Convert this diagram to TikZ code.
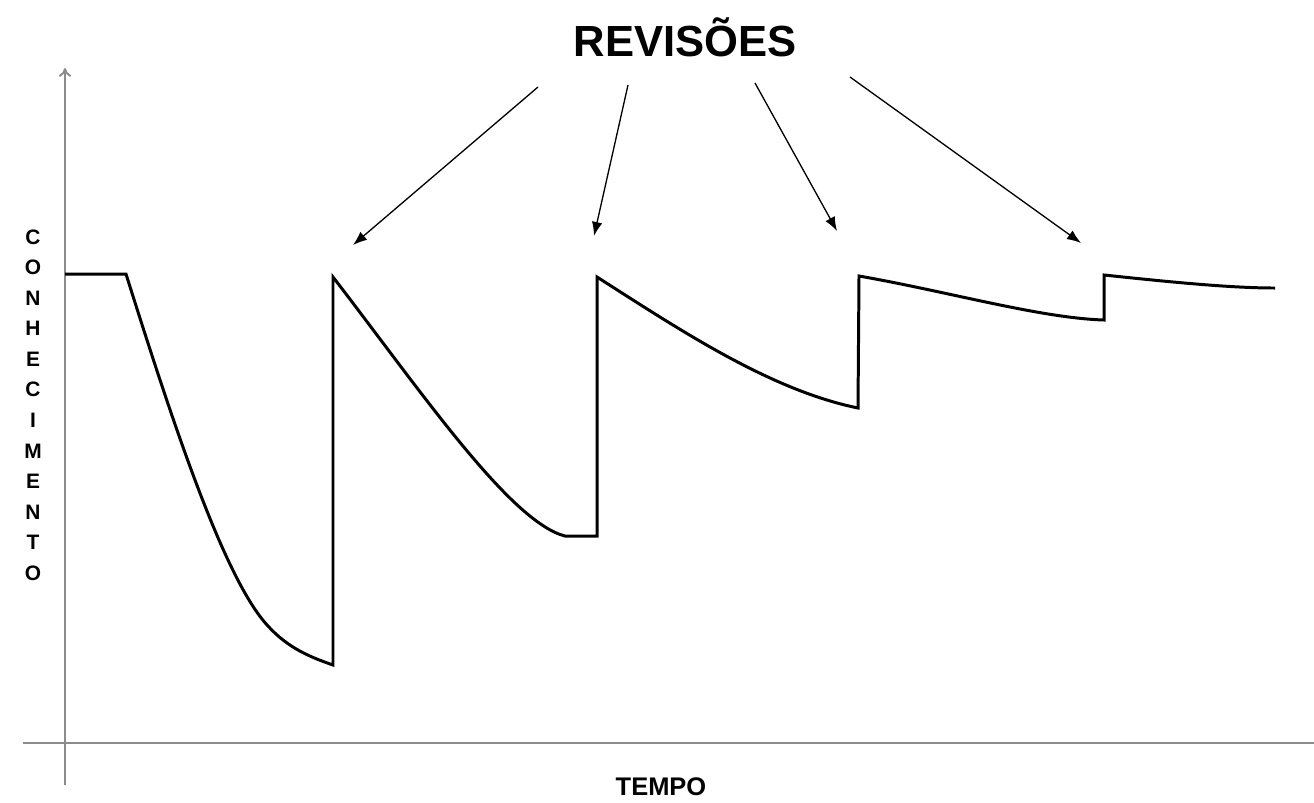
\documentclass[tikz,border=0pt]{standalone}
\usepackage{fontspec}
\setmainfont{Liberation Sans}
\usetikzlibrary{arrows.meta}
\begin{document}
\begin{tikzpicture}[x=0.02cm,y=-0.02cm,
  axis/.style={draw=black!45, line width=1.1pt},
  curve/.style={draw=black, line width=1.7pt, line join=miter},
  revarrow/.style={draw=black, line width=0.75pt, -{Latex[length=8pt,width=6pt]}},
  lbl/.style={font=\bfseries, inner sep=0pt}]
\useasboundingbox (0,0) rectangle (1314,802);
% axes
\coordinate (yb) at (65,785);
\coordinate (yt) at (65,68);
\coordinate (xl) at (23,743);
\coordinate (xr) at (1314,743);
\draw[axis, -{To[length=5pt,width=7pt]}] (yb) -- (yt);
\draw[axis] (xl) -- (xr);
% labels
\node[lbl, font=\bfseries\fontsize{24.8}{28}\selectfont] (title) at (685,37) {REVISÕES};
\node[lbl, font=\bfseries\fontsize{14.5}{16}\selectfont] (tempo) at (661,787) {TEMPO};
\node[lbl, align=center, font=\bfseries\fontsize{11.9}{17.4}\selectfont] (conh) at (33,405)
  {C\\O\\N\\H\\E\\C\\I\\M\\E\\N\\T\\O};
% curve
\draw[curve] (65,274) -- (126,274)
  .. controls (175,430) and (225,580) .. (268,626)
  .. controls (288,648) and (310,657) .. (333,665)
  -- (333,277)
  .. controls (420,390) and (510,522) .. (565,536)
  -- (597,536)
  -- (597,277)
  .. controls (680,330) and (770,390) .. (858,408)
  -- (859,276)
  .. controls (950,292) and (1040,318) .. (1104,320)
  -- (1104,275)
  .. controls (1170,282) and (1230,288) .. (1275,288);
% revision arrows
\coordinate (a1s) at (538,87);  \coordinate (a1e) at (353,245);
\coordinate (a2s) at (628,85);  \coordinate (a2e) at (594,236);
\coordinate (a3s) at (755,83);  \coordinate (a3e) at (837,231);
\coordinate (a4s) at (850,77);  \coordinate (a4e) at (1081,243);
\draw[revarrow] (a1s) -- (a1e);
\draw[revarrow] (a2s) -- (a2e);
\draw[revarrow] (a3s) -- (a3e);
\draw[revarrow] (a4s) -- (a4e);
\end{tikzpicture}
\end{document}
